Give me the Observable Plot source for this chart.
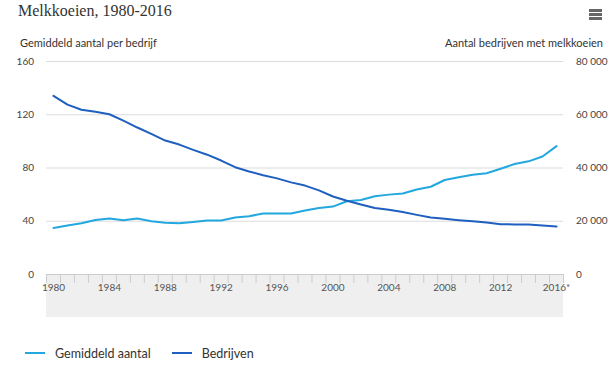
<!DOCTYPE html>
<html>
<head>
<meta charset="utf-8">
<script src="https://cdn.jsdelivr.net/npm/d3@7"></script>
<script src="https://cdn.jsdelivr.net/npm/@observablehq/plot@0.6"></script>
<style>
  html, body { margin: 0; padding: 0; background: #fff; }
  #wrap { position: relative; width: 612px; height: 367px; overflow: hidden; font-family: Lato, "Noto Sans", sans-serif; color: #333; }
  #title { position: absolute; left: 18px; top: 2px; font-family: "Liberation Serif", serif; font-size: 16px; color: #333; white-space: nowrap; }
  .menu { position: absolute; left: 589px; width: 13px; height: 2.5px; background: #666; }
  .ytitle { position: absolute; top: 36px; font-size: 11px; white-space: nowrap; color: #333; }
  #chart { position: absolute; left: 0; top: 52px; }
  #legend { position: absolute; left: 25px; top: 342px; font-size: 12.5px; white-space: nowrap; color: #333; }
  .item { display: inline-flex; align-items: center; margin-right: 21px; }
  .sw { display: inline-block; width: 20px; height: 2px; margin-right: 10px; }
</style>
</head>
<body>
<div id="wrap">
  <div id="title">Melkkoeien, 1980-2016</div>
  <div class="menu" style="top:9px"></div>
  <div class="menu" style="top:13px"></div>
  <div class="menu" style="top:17px"></div>
  <div class="ytitle" style="left:20px">Gemiddeld aantal per bedrijf</div>
  <div class="ytitle" style="right:9px">Aantal bedrijven met melkkoeien</div>
  <div id="chart"></div>
  <div id="legend"></div>
</div>
<script>
const years = [1980,1981,1982,1983,1984,1985,1986,1987,1988,1989,1990,1991,1992,1993,1994,1995,1996,1997,1998,1999,2000,2001,2002,2003,2004,2005,2006,2007,2008,2009,2010,2011,2012,2013,2014,2015,2016];
const gemiddeldAantal = [35,36.8,38.5,41,42,40.8,42,40,38.8,38.5,39.5,40.5,40.5,42.8,43.8,45.8,45.8,45.8,48,50,51,55,56,58.8,60,60.8,63.9,65.9,71,73,74.9,76,79.4,83,85,88.6,96.4];
const bedrijven = [67100,63800,61900,61100,60200,57800,55200,52800,50300,48800,46800,45000,42800,40300,38700,37300,36100,34600,33400,31600,29300,27700,26300,25000,24300,23500,22400,21400,20900,20400,20000,19500,18900,18800,18800,18400,18000];
const leftTicks = [0, 40, 80, 120, 160];
const rightTicks = [0, 20000, 40000, 60000, 80000];
const labelYears = [1980,1984,1988,1992,1996,2000,2004,2008,2012,2016];
const seriesNames = ["Gemiddeld aantal", "Bedrijven"];
const colors = ["#22a8df", "#1f5fbf"];

const ratio = rightTicks[rightTicks.length-1] / leftTicks[leftTicks.length-1];
const tickEdges = years.map(y => y - 0.5).concat([years[years.length-1] + 0.5]);
const x0 = tickEdges[0], x1 = tickEdges[tickEdges.length-1];

const dataG = years.map((y, i) => ({year: y, v: gemiddeldAantal[i]}));
const dataB = years.map((y, i) => ({year: y, v: bedrijven[i] / ratio}));
const fmt = d => d3.format(",")(d).replace(/,/g, " ");

const plot = Plot.plot({
  width: 612,
  height: 270,
  marginTop: 9,
  marginBottom: 48,
  marginLeft: 53,
  marginRight: 56,
  style: {fontFamily: "Lato, 'Noto Sans', sans-serif", fontSize: "10px", color: "#444", background: "transparent"},
  x: {domain: [years[0], years[years.length-1]]},
  y: {domain: [leftTicks[0], leftTicks[leftTicks.length-1]]},
  marks: [
    Plot.ruleY(leftTicks.slice(1), {x1: x0, x2: x1, stroke: "#dcdcdc", strokeWidth: 1.2}),
    Plot.ruleY([0], {x1: x0, x2: x1, stroke: "#cccccc", strokeWidth: 1.2}),
    Plot.axisY(leftTicks, {anchor: "left", tickSize: 0, tickPadding: 19.5, label: null, fill: "#444"}),
    Plot.axisY(leftTicks, {anchor: "right", tickSize: 0, tickPadding: 19.5, label: null, fill: "#444", tickFormat: d => fmt(d * ratio)}),
    Plot.axisX(tickEdges, {anchor: "bottom", tickSize: 9, stroke: "#cccccc", tickFormat: () => "", label: null}),
    Plot.axisX(labelYears, {anchor: "bottom", tickSize: 0, tickPadding: 9, label: null, fill: "#555", tickFormat: d => d === 2016 ? "2016*" : String(d)}),
    Plot.line(dataG, {x: "year", y: "v", stroke: colors[0], strokeWidth: 2}),
    Plot.line(dataB, {x: "year", y: "v", stroke: colors[1], strokeWidth: 2})
  ]
});

// grey band under the x axis, positioned through the plot's own scales
const xs = plot.scale("x"), ys = plot.scale("y");
const band = document.createElementNS("http://www.w3.org/2000/svg", "rect");
band.setAttribute("x", xs.apply(x0));
band.setAttribute("width", xs.apply(x1) - xs.apply(x0));
band.setAttribute("y", ys.apply(0));
band.setAttribute("height", 43);
band.setAttribute("fill", "#efefef");
plot.insertBefore(band, plot.firstChild.nextSibling);
document.getElementById("chart").appendChild(plot);

const legend = document.getElementById("legend");
seriesNames.forEach((n, i) => {
  const it = document.createElement("span");
  it.className = "item";
  it.innerHTML = `<span class="sw" style="background:${colors[i]}"></span>${n}`;
  legend.appendChild(it);
});
</script>
</body>
</html>
